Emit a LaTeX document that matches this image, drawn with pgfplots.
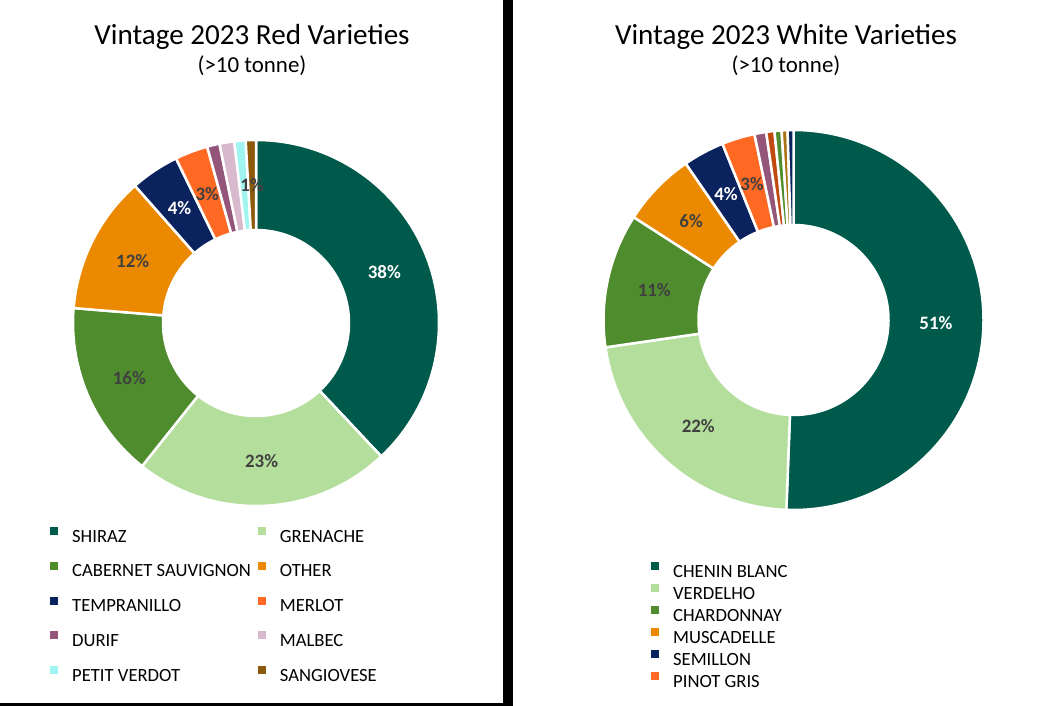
\documentclass[border=0pt]{standalone}
\usepackage{pgfplots}
\usepackage{pgfplotstable}
\pgfplotsset{compat=1.18}
\usepackage{fontspec}
\setmainfont{Carlito}
\usepackage{etoolbox}

\definecolor{cTeal}{RGB}{0,90,75}
\definecolor{cLight}{RGB}{180,222,155}
\definecolor{cGreen}{RGB}{78,140,45}
\definecolor{cOrange}{RGB}{235,138,0}
\definecolor{cNavy}{RGB}{10,35,95}
\definecolor{cRedOr}{RGB}{255,105,35}
\definecolor{cPurple}{RGB}{148,85,122}
\definecolor{cPink}{RGB}{217,185,205}
\definecolor{cCyan}{RGB}{160,245,240}
\definecolor{cBrown}{RGB}{140,90,10}
\definecolor{cRust}{RGB}{192,74,16}
\definecolor{cTan}{RGB}{170,115,20}
\definecolor{dgray}{RGB}{64,64,64}

% value (percent), colour, label (-1 = none), label colour
\pgfplotstableread{
value col lab labcol
38.0 cTeal 38 white
22.7 cLight 23 dgray
15.6 cGreen 16 dgray
12.2 cOrange 12 dgray
4.3 cNavy 4 white
2.9 cRedOr 3 dgray
1.1 cPurple -1 dgray
1.3 cPink -1 dgray
1.0 cCyan -1 dgray
0.9 cBrown 1 dgray
}\redtable

\pgfplotstableread{
value col lab labcol
50.6 cTeal 51 white
22.1 cLight 22 dgray
11.4 cGreen 11 dgray
6.3 cOrange 6 dgray
3.5 cNavy 4 white
2.8 cRedOr 3 dgray
1.0 cPurple -1 dgray
0.7 cRust -1 dgray
0.6 cGreen -1 dgray
0.5 cTan -1 dgray
0.5 cNavy -1 dgray
}\whitetable

% #1 table, #2 cx, #3 cy, #4 outer R, #5 inner r
\newcommand\makedonut[5]{%
  \gdef\donutcmds{}%
  \gdef\cumangle{90}%
  \pgfplotstablegetrowsof{#1}%
  \pgfmathtruncatemacro\lastrow{\pgfplotsretval-1}%
  \foreach \i in {0,...,\lastrow}{%
    \pgfplotstablegetelem{\i}{value}\of{#1}\let\dnv\pgfplotsretval
    \pgfplotstablegetelem{\i}{col}\of{#1}\let\dnc\pgfplotsretval
    \pgfplotstablegetelem{\i}{lab}\of{#1}\let\dnl\pgfplotsretval
    \pgfplotstablegetelem{\i}{labcol}\of{#1}\let\dnlc\pgfplotsretval
    \pgfmathsetmacro\dna{\cumangle}%
    \pgfmathsetmacro\dnb{\cumangle-3.6*\dnv}%
    \pgfmathsetmacro\dnm{(\dna+\dnb)/2}%
    \pgfmathsetmacro\dnx{#2+cos(\dnm)*(#4+#5)/2}%
    \pgfmathsetmacro\dny{#3+sin(\dnm)*(#4+#5)/2}%
    \pgfmathsetmacro\dnr{#4-#5}%
    \xappto\donutcmds{\noexpand\fill[\dnc, draw=white, line width=2.5bp] (axis cs:#2,#3) ++(\dna:#4bp) arc[start angle=\dna, end angle=\dnb, radius=#4bp] -- ++(\dnb+180:\dnr bp) arc[start angle=\dnb, end angle=\dna, radius=#5bp] -- cycle;}%
    \ifnum\dnl>0
      \xappto\donutcmds{\noexpand\node[text=\dnlc, font=\noexpand\bfseries\noexpand\fontsize{19}{22}\noexpand\selectfont] at (axis cs:\dnx,\dny) {\dnl\noexpand\%};}%
    \fi
    \xdef\cumangle{\dnb}%
  }%
}

\makedonut{\redtable}{256}{383}{183}{93}
\let\reddonut\donutcmds
\makedonut{\whitetable}{793.5}{386}{190}{95}
\let\whitedonut\donutcmds

\pgfplotsset{
  donutaxis/.style={
    x=1bp, y=1bp, xmin=0, xmax=1059, ymin=0, ymax=706,
    hide axis, clip=false, anchor=south west, at={(0bp,0bp)},
    legend cell align=left,
    legend image code/.code={\fill[##1, draw=none] (0bp,2.5bp) rectangle (8bp,10.5bp); \path[draw=none, fill=none] (0bp,0bp) -- (22bp,0bp);},
    legend style={draw=none, fill=none, inner sep=0pt, anchor=north west,
      font=\fontsize{18.7}{22}\selectfont, column sep=0bp,
      nodes={inner sep=0pt, text height=13bp, text depth=4bp},
      /tikz/every even column/.append style={column sep=7bp}},
  }
}

\begin{document}
\begin{tikzpicture}
\path[use as bounding box] (0bp,0bp) rectangle (1059bp,706bp);
% ---------- red varieties ----------
\begin{axis}[donutaxis,
  legend columns=2,
  legend style={at={(axis description cs:0.0472,0.2535)}, row sep=15.75bp}]
\addlegendimage{fill=cTeal}\addlegendentry{SHIRAZ}
\addlegendimage{fill=cLight}\addlegendentry{GRENACHE}
\addlegendimage{fill=cGreen}\addlegendentry{CABERNET SAUVIGNON}
\addlegendimage{fill=cOrange}\addlegendentry{OTHER}
\addlegendimage{fill=cNavy}\addlegendentry{TEMPRANILLO}
\addlegendimage{fill=cRedOr}\addlegendentry{MERLOT}
\addlegendimage{fill=cPurple}\addlegendentry{DURIF}
\addlegendimage{fill=cPink}\addlegendentry{MALBEC}
\addlegendimage{fill=cCyan}\addlegendentry{PETIT VERDOT}
\addlegendimage{fill=cBrown}\addlegendentry{SANGIOVESE}
\reddonut
\node[anchor=base, font=\fontsize{29.2}{34}\selectfont] at (axis cs:252,661) {Vintage 2023 Red Varieties};
\node[anchor=base, font=\fontsize{23}{27}\selectfont] at (axis cs:252,633) {(>10 tonne)};
\fill[black] (axis cs:503,0) rectangle (axis cs:513,706);
\fill[black] (axis cs:0,0) rectangle (axis cs:503,3);
\end{axis}
% ---------- white varieties ----------
\begin{axis}[donutaxis,
  legend columns=1,
  legend style={at={(axis description cs:0.6147,0.204)}, row sep=3bp}]
\addlegendimage{fill=cTeal}\addlegendentry{CHENIN BLANC}
\addlegendimage{fill=cLight}\addlegendentry{VERDELHO}
\addlegendimage{fill=cGreen}\addlegendentry{CHARDONNAY}
\addlegendimage{fill=cOrange}\addlegendentry{MUSCADELLE}
\addlegendimage{fill=cNavy}\addlegendentry{SEMILLON}
\addlegendimage{fill=cRedOr}\addlegendentry{PINOT GRIS}
\whitedonut
\node[anchor=base, font=\fontsize{29.2}{34}\selectfont] at (axis cs:786,661) {Vintage 2023 White Varieties};
\node[anchor=base, font=\fontsize{23}{27}\selectfont] at (axis cs:786,633) {(>10 tonne)};
\end{axis}
\end{tikzpicture}
\end{document}
